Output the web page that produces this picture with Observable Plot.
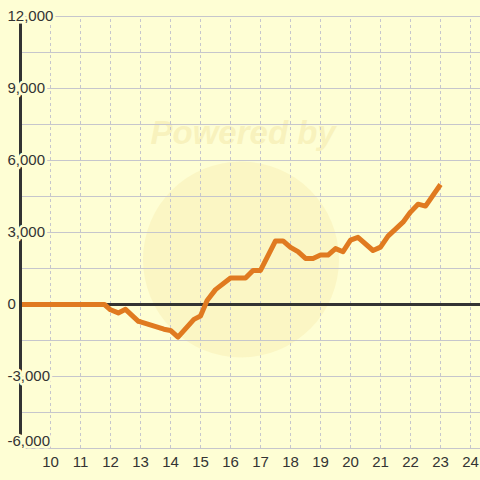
<!DOCTYPE html>
<html>
<head>
<meta charset="utf-8">
<script src="https://cdn.jsdelivr.net/npm/d3@7"></script>
<script src="https://cdn.jsdelivr.net/npm/@observablehq/plot@0.6"></script>
<style>
  html, body { margin: 0; padding: 0; background: #fefed4; }
  #chart { width: 480px; height: 480px; }
</style>
</head>
<body>
<div id="chart"></div>
<script>
// Series
const xs = [9.0, 11.8, 12.0, 12.26, 12.5, 12.93, 13.0, 13.78, 14.0, 14.25, 14.78, 15.0, 15.22, 15.5, 16.0, 16.5, 16.75, 17.0, 17.5, 17.75, 18.0, 18.25, 18.5, 18.75, 19.0, 19.25, 19.5, 19.75, 20.0, 20.25, 20.75, 21.0, 21.25, 21.75, 22.0, 22.25, 22.5, 23.0];
const ys = [0, 0, -220, -350, -200, -700, -720, -1030, -1080, -1360, -620, -480, 170, 620, 1100, 1100, 1420, 1420, 2650, 2650, 2380, 2200, 1920, 1920, 2060, 2060, 2330, 2200, 2680, 2800, 2250, 2390, 2850, 3430, 3850, 4180, 4100, 5000];

// Axis ticks
const xTicks = [10, 11, 12, 13, 14, 15, 16, 17, 18, 19, 20, 21, 22, 23, 24];
const yLabels = [12000, 9000, 6000, 3000, 0, -3000, -6000];
const yGrid = [-6000, -4500, -3000, -1500, 0, 1500, 3000, 4500, 6000, 7500, 9000, 10500, 12000];
const xDomain = [9, 24.333];
const yDomain = [-6000, 12000];
const axisBottom = -5450;

// Watermark
const watermarkText = ["Powered by"];
const watermarkTextPos = [{x: 16.42, y: 7125}];
const watermarkCircle = [{x: 16.35, y: 1875}];

const data = xs.map((x, i) => ({x, y: ys[i]}));
const bg = "#fefed4";
const ink = "#333333";
const grid = "#c6c6cc";
const labelOpts = {x: xDomain[0], y: d => d, dx: -13, text: d => d.toLocaleString("en-US"), textAnchor: "start", fill: ink, stroke: bg, strokeWidth: 5, paintOrder: "stroke", fontSize: 15};

const chart = Plot.plot({
  width: 480,
  height: 480,
  marginTop: 16,
  marginBottom: 32,
  marginLeft: 20,
  marginRight: 0,
  style: {background: bg, fontFamily: "'Liberation Sans', Arial, sans-serif", fontSize: "15px", color: ink},
  x: {domain: xDomain, axis: null},
  y: {domain: yDomain, axis: null},
  marks: [
    Plot.dot(watermarkCircle, {x: "x", y: "y", r: 98, fill: "#f6e6a0", fillOpacity: 0.3, stroke: "none"}),
    Plot.text(watermarkTextPos, {x: "x", y: "y", text: () => watermarkText[0], fontSize: 33, fontWeight: "bold", fontStyle: "italic", fill: "#f3e6a6", fillOpacity: 0.5}),
    Plot.ruleY(yGrid, {stroke: grid, strokeWidth: 1}),
    Plot.ruleX(xTicks, {y1: yDomain[0], y2: yDomain[1], stroke: grid, strokeWidth: 1, strokeDasharray: "3,3"}),
    Plot.ruleY([0], {stroke: ink, strokeWidth: 3}),
    Plot.line(data, {x: "x", y: "y", stroke: "#e07a20", strokeWidth: 5, strokeLinejoin: "round", strokeLinecap: "butt"}),
    Plot.ruleX([xDomain[0]], {y1: axisBottom, y2: yDomain[1], stroke: ink, strokeWidth: 3}),
    Plot.text(yLabels.filter(d => d !== yDomain[0]), labelOpts),
    Plot.text(yLabels.filter(d => d === yDomain[0]), {...labelOpts, dy: -7}),
    Plot.text(xTicks, {x: d => d, y: yDomain[0], dy: 14, text: d => String(d), fill: ink, fontSize: 15})
  ]
});
document.getElementById("chart").appendChild(chart);
</script>
</body>
</html>
